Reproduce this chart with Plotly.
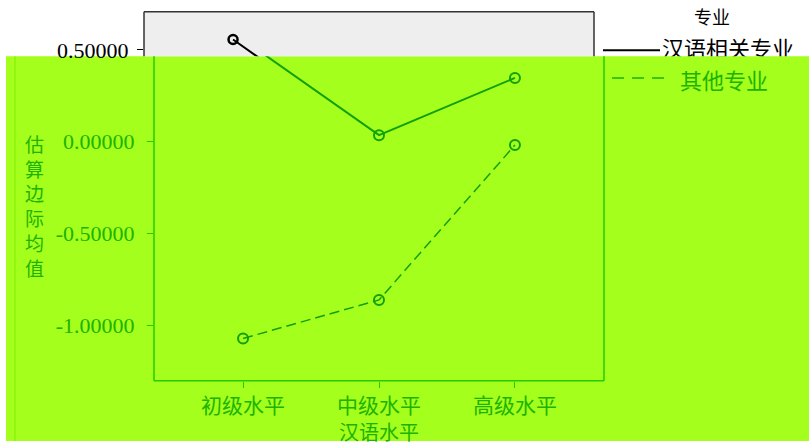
import plotly.graph_objects as go

# data
levels = ['初级水平', '中级水平', '高级水平']
related = [0.556, 0.035, 0.347]      # 汉语相关专业
other = [-1.073, -0.863, -0.019]     # 其他专业
ytick_vals = [0.5, 0.0, -0.5, -1.0]
ytick_text = ['0.50000', '0.00000', '-0.50000', '-1.00000']

W, H = 809, 447
def px(x):
    return x / W
def py(y):
    return 1 - y / H

GREEN_BG = '#a4ff1c'
GREEN_TXT = '#1db300'
GREEN_LN = '#12a00a'
GREEN_FRAME = '#22cc00'
serif = 'Liberation Serif'
cjk = 'Noto Sans CJK SC'

# value scale: 186 px per unit, 0 at y=143.5
def val(y):
    return (143.5 - y) / 186.0

xr = [-0.655, 2.655]
fig = go.Figure()

# top (uncovered) copy, black
fig.add_trace(go.Scatter(x=levels, y=related, mode='lines+markers', xaxis='x', yaxis='y',
                         line=dict(color='black', width=2),
                         marker=dict(symbol='circle-open', size=9, color='black', line=dict(width=2.5)),
                         cliponaxis=True))
fig.add_trace(go.Scatter(x=levels, y=other, mode='lines+markers', xaxis='x', yaxis='y',
                         line=dict(color='black', width=1.5, dash='10px,5px'),
                         marker=dict(symbol='circle-open', size=9, color='black', line=dict(width=2.5)),
                         cliponaxis=True))
# green overlay copy
fig.add_trace(go.Scatter(x=levels, y=related, mode='lines+markers', xaxis='x2', yaxis='y2',
                         line=dict(color=GREEN_LN, width=2),
                         marker=dict(symbol='circle-open', size=10, color=GREEN_LN, line=dict(width=2)),
                         cliponaxis=True))
fig.add_trace(go.Scatter(x=levels, y=other, mode='lines+markers', xaxis='x2', yaxis='y2',
                         line=dict(color=GREEN_LN, width=1.5, dash='10px,5px'),
                         marker=dict(symbol='circle-open', size=10, color=GREEN_LN, line=dict(width=2)),
                         cliponaxis=True))
# legend text that is cut by the overlay edge
fig.add_trace(go.Scatter(x=[662], y=[52], mode='text', text=['汉语相关专业'], textposition='middle right',
                         textfont=dict(family=cjk, size=22, color='black'),
                         xaxis='x3', yaxis='y3', cliponaxis=True))

fig.update_layout(
    width=W, height=H,
    margin=dict(l=0, r=0, t=0, b=0),
    paper_bgcolor='white',
    plot_bgcolor='rgba(0,0,0,0)',
    showlegend=False,
    xaxis=dict(domain=[px(144), px(594)], range=xr, anchor='y', visible=False),
    yaxis=dict(domain=[py(57), py(12)], range=[val(57), val(12)], anchor='x',
               tickvals=ytick_vals, ticktext=ytick_text, ticks='outside', ticklen=6,
               tickcolor='black', tickwidth=1, showgrid=False, zeroline=False,
               ticklabelstandoff=4, tickfont=dict(family=serif, size=22, color='black')),
    xaxis2=dict(domain=[px(154), px(604)], range=xr, anchor='y2', showgrid=False,
                ticks='outside', ticklen=6, tickcolor=GREEN_FRAME,
                tickfont=dict(family=cjk, size=21, color=GREEN_TXT)),
    yaxis2=dict(domain=[py(386), py(57)], range=[val(386), val(57)], anchor='x2',
                tickvals=ytick_vals, ticktext=ytick_text, ticks='outside', ticklen=6,
                tickcolor=GREEN_FRAME, showgrid=False, zeroline=False,
                ticklabelstandoff=8, tickfont=dict(family=serif, size=22, color=GREEN_TXT)),
    xaxis3=dict(domain=[px(598), 1], range=[598, 809], anchor='y3', visible=False),
    yaxis3=dict(domain=[py(57), 1], range=[57, 0], anchor='x3', visible=False),
)

shapes = [
    # overlay block
    dict(type='rect', xref='paper', yref='paper', x0=px(6), x1=1, y0=0, y1=py(57),
         fillcolor=GREEN_BG, line=dict(width=0), layer='below'),
    # grey plot area of the uncovered part
    dict(type='rect', xref='paper', yref='paper', x0=px(144), x1=px(594), y0=py(57), y1=py(12),
         fillcolor='#eeeeee', line=dict(width=0), layer='below'),
    # black frame pieces
    dict(type='line', xref='paper', yref='paper', x0=px(144), x1=px(594), y0=py(12), y1=py(12),
         line=dict(color='#333333', width=1.5)),
    dict(type='line', xref='paper', yref='paper', x0=px(144), x1=px(144), y0=py(12), y1=py(57),
         line=dict(color='#333333', width=1.5)),
    dict(type='line', xref='paper', yref='paper', x0=px(594), x1=px(594), y0=py(12), y1=py(57),
         line=dict(color='#333333', width=1.5)),
    # green frame pieces
    dict(type='line', xref='paper', yref='paper', x0=px(154), x1=px(154), y0=py(386), y1=py(57),
         line=dict(color=GREEN_FRAME, width=1.5)),
    dict(type='line', xref='paper', yref='paper', x0=px(604), x1=px(604), y0=py(386), y1=py(57),
         line=dict(color=GREEN_FRAME, width=1.5)),
    dict(type='line', xref='paper', yref='paper', x0=px(154), x1=px(604), y0=py(386), y1=py(386),
         line=dict(color=GREEN_FRAME, width=1.5)),
    dict(type='line', xref='paper', yref='paper', x0=px(15), x1=px(15), y0=0, y1=py(57),
         line=dict(color='#80ee00', width=1)),
    # legend glyphs
    dict(type='line', xref='paper', yref='paper', x0=px(603), x1=px(660), y0=py(51), y1=py(51),
         line=dict(color='black', width=2)),
    dict(type='line', xref='paper', yref='paper', x0=px(612), x1=px(666), y0=py(79), y1=py(79),
         line=dict(color=GREEN_TXT, width=1.5, dash='12px,8px')),
]
fig.update_layout(shapes=shapes)

ytitle = '<br>'.join(list('估算边际均值'))
annotations = [
    dict(text='专业', x=px(712), y=py(16), xref='paper', yref='paper', showarrow=False,
         xanchor='center', yanchor='middle', font=dict(family=cjk, size=18, color='black')),
    dict(text='其他专业', x=px(678), y=py(80), xref='paper', yref='paper', showarrow=False,
         xanchor='left', yanchor='middle', font=dict(family=cjk, size=22, color=GREEN_TXT)),
    dict(text='汉语水平', x=px(379), y=py(437), xref='paper', yref='paper', showarrow=False,
         xanchor='center', yanchor='middle', font=dict(family=cjk, size=20, color=GREEN_TXT)),
    dict(text=ytitle, x=px(34), y=py(208), xref='paper', yref='paper', showarrow=False,
         xanchor='center', yanchor='middle', font=dict(family=cjk, size=19, color=GREEN_TXT)),
]
fig.update_layout(annotations=annotations)

fig.write_html("out.html", config={'displayModeBar': False},
               post_script="document.body.style.margin='0';")
